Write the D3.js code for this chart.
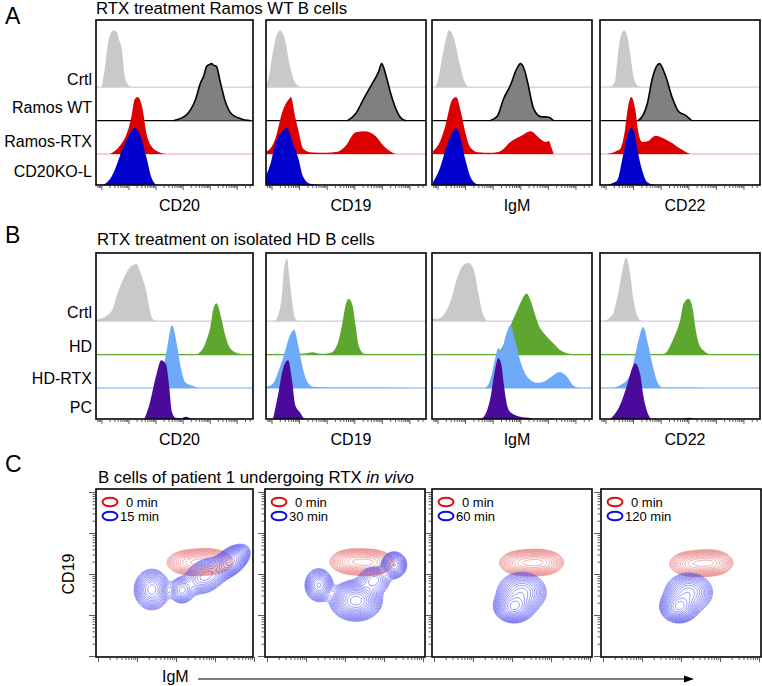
<!DOCTYPE html>
<html><head><meta charset="utf-8">
<script src="https://cdn.jsdelivr.net/npm/d3@7"></script>
<style>
body{margin:0;background:#fff}
svg{display:block}
text{font-family:"Liberation Sans",Arial,Helvetica,sans-serif;fill:#000}
</style>
</head><body>
<svg id="fig" width="762" height="686"></svg>
<script>
// ================= DATA =================
// Histogram knots: [channel position (0-100 across the axis), % of mode]
const markers = ["CD20", "CD19", "IgM", "CD22"];
const rowsA = ["Crtl", "Ramos WT", "Ramos-RTX", "CD20KO-L"];
const rowsB = ["Crtl", "HD", "HD-RTX", "PC"];

const A_CD20 = [
  [[3.6,0],[5.7,35],[7.5,75],[9.4,95],[11.3,100],[13.2,97],[15.1,80],[16.4,68],[18.2,22],[20.1,6],[22.6,0]],
  [[49.7,0],[57.2,9],[63.5,38],[66.7,67],[68.6,78],[70.4,95],[72,98],[73.6,100],[75,97],[76.7,95],[79.2,67],[82.4,33],[86.2,12],[92.5,3],[98,0]],
  [[8.8,0],[15.1,14],[20.1,40],[22.6,66],[24.5,95],[26.4,100],[29.6,80],[32.1,37],[35.2,14],[40.3,3],[44.7,0]],
  [[4.4,0],[8.8,10],[11.9,26],[16.4,60],[20.1,83],[24.5,100],[27.7,91],[32.1,49],[35.2,14],[38.4,0]]
];
const A_CD19 = [
  [[0,5],[1.3,12],[3.8,53],[6.3,88],[8.8,100],[11.9,83],[15.1,36],[18.2,8],[22.6,0]],
  [[50.9,0],[56,12],[61,38],[65.4,60],[70.4,86],[72.3,100],[74.8,81],[78,47],[81.1,21],[84.9,3],[87.4,0]],
  [[0,5],[1.3,6],[5.7,26],[10.7,78],[14.5,97],[15.5,100],[18.2,66],[20.1,43],[23.3,9],[27.7,3],[37,2],[44.7,4],[49.7,14],[56,38],[62.3,40],[68.6,31],[73.6,14],[78,4],[81.1,0]],
  [[0,17],[3.1,40],[5.7,72],[9.4,92],[13.2,100],[16.4,76],[20.1,48],[23.3,14],[27.7,2],[32.7,0]]
];
const A_IgM = [
  [[1.9,0],[3.5,9],[6.9,60],[10.7,100],[13.8,85],[17,45],[20,12],[22.6,0]],
  [[36.5,0],[40.9,8],[44.7,38],[49,62],[52.8,90],[55.3,100],[57.9,88],[59.7,68],[63.5,21],[67.9,7],[73,6],[74.2,4],[76,0]],
  [[0.6,5],[5,22],[8.2,48],[12.6,95],[15.1,100],[18.2,72],[20.8,38],[23.9,12],[28.9,3],[36.5,2],[42.8,5],[49,21],[55.3,31],[61.6,40],[67.9,26],[71.1,21],[73,23],[74.8,10],[76,0]],
  [[0.6,5],[5,30],[8.8,65],[12.6,92],[15.1,100],[17.6,85],[20.8,45],[23.9,15],[27,3],[30.2,0]]
];
const A_CD22 = [
  [[6.3,0],[9.4,10],[11.3,60],[13.2,92],[15.1,100],[17,90],[18.9,58],[21.4,13],[23.9,2],[25.8,0]],
  [[23.9,0],[27,10],[29.6,30],[32.7,74],[37.1,100],[40.9,79],[45.3,39],[49.1,16],[53.5,9],[57.2,0]],
  [[4.4,0],[9.4,4],[12.6,9],[15.7,44],[17.6,84],[19.5,100],[22,79],[23.9,39],[26.4,21],[30.2,23],[34.6,32],[37.7,30],[44,21],[50.3,9],[54,3],[56.6,0]],
  [[5,0],[7.5,3],[10.7,8],[14.5,53],[17.6,92],[19.5,100],[21.4,92],[23.3,63],[26.4,25],[29.6,5],[34.6,0]]
];
const B_CD20 = [
  [[0.6,3],[6.9,10],[10.7,22],[13.8,50],[18.2,79],[22.6,97],[25.8,100],[28.9,81],[32.1,51],[34,23],[35.8,5],[38.4,0]],
  [[64.2,0],[69.8,21],[73,51],[74.8,81],[76.7,90],[79.9,63],[82.4,33],[85.5,11],[90.6,2],[95.6,0]],
  [[35.8,0],[40.3,5],[42.1,23],[45.3,70],[48.4,110],[51.6,75],[54.1,35],[57.2,9],[62.3,3],[65.4,0]],
  [[30.8,0],[34,25],[38.4,77],[41.5,103],[44.7,95],[46.5,60],[48.4,12],[50.9,2],[54.1,1],[57.2,4],[61,0]]
];
const B_CD19 = [
  [[5,0],[7.5,10],[10.1,50],[11.3,93],[13.2,110],[14.5,80],[16.4,33],[18.2,5],[20.1,0]],
  [[2.5,0],[15.1,1],[24.5,2],[28.9,4],[34,1.5],[40.3,3],[44.7,19],[47.8,56],[49.7,86],[51.6,98],[54.1,86],[56,51],[57.9,16],[61,2],[63.5,0]],
  [[0,2],[4.4,8],[6.9,23],[10.7,53],[15.1,93],[17.6,102],[20.1,75],[22.6,40],[25.8,11],[29.6,2],[40.3,1],[71.7,1],[90.6,0]],
  [[4.4,0],[7.5,42],[10.7,89],[13.8,103],[16.4,65],[18.2,25],[21.4,11],[23.9,0]]
];
const B_IgM = [
  [[0.6,5],[3.1,4],[6.9,10],[11.3,33],[16.4,81],[19.5,98],[22.6,102],[25.8,93],[28.9,51],[31.4,16],[34.6,0]],
  [[39.6,0],[42.8,8],[45.9,25],[49,50],[52.8,75],[56,95],[59.1,107],[61.6,95],[64.2,72],[66.7,51],[69.8,38],[73,28],[76.1,19],[80.5,7],[84.9,2],[91.8,0]],
  [[33.3,0],[36.5,15],[39,45],[41.5,70],[43.4,65],[45.9,90],[49,110],[52.2,81],[55.3,46],[59.7,19],[66,9],[69.8,11],[74.2,19],[79.9,28],[84.9,18],[88,5],[93.1,0]],
  [[30.2,0],[33.3,8],[36.5,37],[39.6,89],[41.5,107],[43.4,95],[44.7,65],[46.5,30],[49,12],[55.3,4],[60.4,2],[63.5,0]]
];
const B_CD22 = [
  [[1.9,0],[7.5,10],[10.7,40],[13.8,86],[16.4,112],[18.9,81],[20.8,40],[23.3,10],[25.8,0]],
  [[37.7,0],[40.9,3],[45.9,28],[50.3,63],[52.2,89],[55.3,98],[57.9,81],[59.7,46],[61.6,21],[64.8,7],[69.2,0]],
  [[6.3,0],[12.6,5],[18.9,23],[22,58],[24.5,89],[27,107],[30.2,75],[33.3,35],[35.8,11],[39,1],[58.5,1],[62.9,0]],
  [[6.3,0],[7.5,3],[12.6,25],[17,60],[20.1,89],[22,98],[25.2,77],[27,42],[29.6,12],[32.7,0],[50.3,0],[55.3,2],[59.1,0]]
];

// Panel C: density components [log10 IgM, log10 CD19, sdX, sdY, rho, weight]
const timesC = ["15 min", "30 min", "60 min", "120 min"];
const C_red = [
  [[3.38,3.28,0.26,0.13,0,0.85],[3.83,3.30,0.26,0.13,0,1]],
  [[3.2,3.30,0.25,0.13,0,0.85],[3.65,3.28,0.25,0.13,0,1]],
  [[3.27,3.27,0.25,0.13,0,0.85],[3.72,3.28,0.25,0.13,0,1]],
  [[3.3,3.25,0.25,0.13,0,0.85],[3.75,3.27,0.24,0.13,0,1]]
];
const C_blue = [
  [[2.38,2.62,0.2,0.22,0,0.55],[3.15,2.6,0.15,0.15,0,0.35],[3.75,2.95,0.25,0.2,0.3,0.45],[4.4,3.3,0.2,0.17,0.5,1]],
  [[2.33,2.73,0.16,0.18,0,0.5],[3.28,2.35,0.27,0.2,0,1],[4.26,3.22,0.14,0.14,0,0.6],[3.75,2.85,0.2,0.16,0,0.3]],
  [[3.05,2.2,0.21,0.16,0,1],[3.25,2.55,0.28,0.22,0,0.6]],
  [[2.95,2.2,0.2,0.16,0,1],[3.2,2.55,0.27,0.21,0,0.6]]
];

// ================= LAYOUT / STYLE =================
const svg = d3.select("#fig");
const defs = svg.append("defs");
const colX = [96, 266, 432, 600];
const colW = [157, 160, 160, 160];
const FONT = 16;

function text(x, y, s, size, anchor) {
  return svg.append("text").attr("x", x).attr("y", y).attr("font-size", size)
    .attr("text-anchor", anchor || "start").text(s);
}

let clipN = 0;
function clipRect(x, y, w, h) {
  const id = "clip" + (clipN++);
  defs.append("clipPath").attr("id", id).append("rect")
    .attr("x", x).attr("y", y).attr("width", w).attr("height", h);
  return "url(#" + id + ")";
}

function logTickValues(lo, hi) {
  const major = [], minor = [];
  for (let k = -2; k <= 7; k++) for (let m = 1; m <= 9; m++) {
    const v = m * Math.pow(10, k);
    if (v >= lo && v <= hi) (m === 1 ? major : minor).push(v);
  }
  return { major, minor };
}

function drawHistPanel(cfg) {
  const { top, bottom, data, rows, labelY, fills, lines, outline, axisY } = cfg;
  const step = 33.4;
  const baselines = [bottom - 31 - 2 * step, bottom - 31 - step, bottom - 31, bottom];
  const h = d3.scaleLinear().domain([0, 100]).range([0, 57]);
  data.forEach((hists, ci) => {
    const x0 = colX[ci], w = colW[ci];
    const x = d3.scaleLinear().domain([0, 100]).range([x0, x0 + w]);
    const g = svg.append("g").attr("clip-path", clipRect(x0, top, w, bottom - top));
    hists.forEach((pts, ri) => {
      const b = baselines[ri];
      if (ri < 3) g.append("line").attr("x1", x0).attr("x2", x0 + w)
        .attr("y1", b).attr("y2", b).attr("stroke", lines[ri]).attr("stroke-width", 1.2);
      const area = d3.area().x(d => x(d[0])).y0(b).y1(d => b - h(d[1])).curve(d3.curveMonotoneX);
      g.append("path").datum(pts).attr("d", area).attr("fill", fills[ri]);
      if (outline[ri]) {
        const ln = d3.line().x(d => x(d[0])).y(d => b - h(d[1])).curve(d3.curveMonotoneX);
        g.append("path").datum(pts).attr("d", ln).attr("fill", "none")
          .attr("stroke", "#000").attr("stroke-width", 1.6);
      }
    });
    svg.append("rect").attr("x", x0).attr("y", top).attr("width", w).attr("height", bottom - top)
      .attr("fill", "none").attr("stroke", "#000").attr("stroke-width", 1.6);
    const lo = Math.pow(10, -0.2), hi = Math.pow(10, 5.6);
    const lx = d3.scaleLog().domain([lo, hi]).range([x0, x0 + w]);
    const tv = logTickValues(lo, hi);
    const axMaj = svg.append("g").attr("transform", `translate(0,${bottom})`)
      .call(d3.axisBottom(lx).tickValues(tv.major).tickSize(5).tickFormat(""));
    const axMin = svg.append("g").attr("transform", `translate(0,${bottom})`)
      .call(d3.axisBottom(lx).tickValues(tv.minor).tickSize(3).tickFormat(""));
    [axMaj, axMin].forEach(a => { a.select(".domain").remove(); a.selectAll("line").attr("stroke", "#333").attr("stroke-width", 0.8); });
    text(x0 + w / 2 + 5, axisY, markers[ci], FONT, "middle");
  });
  rows.forEach((r, ri) => text(92, labelY[ri], r, FONT, "end"));
}

// ---------- Panel A ----------
text(5, 23.5, "A", 23);
text(96, 14, "RTX treatment Ramos WT B cells", 16.8);
drawHistPanel({
  top: 20, bottom: 185, data: [A_CD20, A_CD19, A_IgM, A_CD22], rows: rowsA,
  labelY: [85, 113, 147, 177],
  fills: ["#c9c9c9", "#808080", "#dd0000", "#0000cc"],
  lines: ["#cfcfcf", "#000000", "#f2a0a0", "#0000cc"],
  outline: [false, true, false, false], axisY: 211
});

// ---------- Panel B ----------
text(5, 243, "B", 23);
text(97, 245, "RTX treatment on isolated HD B cells", 16.8);
drawHistPanel({
  top: 253, bottom: 419, data: [B_CD20, B_CD19, B_IgM, B_CD22], rows: rowsB,
  labelY: [318, 352, 384, 413],
  fills: ["#c9c9c9", "#5ea72f", "#6eaaf7", "#4a0a9c"],
  lines: ["#cfcfcf", "#5ea72f", "#6eaaf7", "#4a0a9c"],
  outline: [false, false, false, false], axisY: 445
});

// ---------- Panel C ----------
text(5, 472, "C", 23);
const ct = svg.append("text").attr("x", 98).attr("y", 483).attr("font-size", 16.8);
ct.append("tspan").text("B cells of patient 1 undergoing RTX ");
ct.append("tspan").attr("font-style", "italic").text("in vivo");

const cTop = 489, cBot = 657;
const nGrid = 110;
function drawContours(g, comps, xs, ys, color, nLev, width) {
  const vals = new Array(nGrid * nGrid);
  for (let j = 0; j < nGrid; j++) for (let i = 0; i < nGrid; i++) {
    const X = 1 + (i + 0.5) / nGrid * 4, Y = 1 + (j + 0.5) / nGrid * 4;
    let s = 0;
    comps.forEach(([mx, my, sx, sy, r, wt]) => {
      const dx = (X - mx) / sx, dy = (Y - my) / sy;
      s += wt * Math.exp(-(dx * dx - 2 * r * dx * dy + dy * dy) / (2 * (1 - r * r)));
    });
    vals[j * nGrid + i] = s;
  }
  const mx = d3.max(vals);
  const th = d3.range(nLev).map(k => mx * Math.pow(0.04, 1 - (k + 0.3) / nLev));
  const cs = d3.contours().size([nGrid, nGrid]).thresholds(th)(vals);
  const proj = d3.geoTransform({
    point(px, py) { this.stream.point(xs(Math.pow(10, 1 + px / nGrid * 4)), ys(Math.pow(10, 1 + py / nGrid * 4))); }
  });
  const path = d3.geoPath(proj);
  g.selectAll(null).data(cs).join("path").attr("d", path)
    .attr("fill", "none").attr("stroke", color).attr("stroke-width", width).attr("stroke-linejoin", "round");
}

timesC.forEach((t, ci) => {
  const x0 = colX[ci] + (ci === 1 ? -1 : ci === 3 ? 1 : 0), w = colW[ci];
  const xs = d3.scaleLog().domain([10, 1e5]).range([x0 + 2, x0 + 158]);
  const ys = d3.scaleLog().domain([10, 1e5]).range([656, 492]);
  const g = svg.append("g").attr("clip-path", clipRect(x0, cTop, w, cBot - cTop));
  drawContours(g, C_red[ci], xs, ys, "#e46a6a", 13, 0.55);
  drawContours(g, C_blue[ci], xs, ys, "#4646ee", 16, 0.55);
  svg.append("rect").attr("x", x0).attr("y", cTop).attr("width", w).attr("height", cBot - cTop)
    .attr("fill", "none").attr("stroke", "#000").attr("stroke-width", 1.6);
  const tv = logTickValues(10, 1e5);
  const mk = (axis, size, vals, tr) => {
    const a = svg.append("g").attr("transform", tr).call(axis.tickValues(vals).tickSize(size).tickFormat(""));
    a.select(".domain").remove();
    a.selectAll("line").attr("stroke", "#333").attr("stroke-width", 0.8);
  };
  mk(d3.axisBottom(xs), 5, tv.major, `translate(0,${cBot})`);
  mk(d3.axisBottom(xs), 3, tv.minor, `translate(0,${cBot})`);
  mk(d3.axisLeft(ys), 7, tv.major, `translate(${x0},0)`);
  mk(d3.axisLeft(ys), 3.5, tv.minor, `translate(${x0},0)`);
  svg.append("ellipse").attr("cx", x0 + 14).attr("cy", 502).attr("rx", 7.5).attr("ry", 4.3)
    .attr("fill", "none").attr("stroke", "#e01010").attr("stroke-width", 2);
  svg.append("ellipse").attr("cx", x0 + 14).attr("cy", 516).attr("rx", 7.5).attr("ry", 4.3)
    .attr("fill", "none").attr("stroke", "#1010e0").attr("stroke-width", 2);
  text(x0 + 30, 507, "0 min", 13);
  text(x0 + 24, 521, t, 13);
});

svg.append("text").attr("transform", "translate(74,574) rotate(-90)")
  .attr("font-size", FONT).attr("text-anchor", "middle").text("CD19");
text(162, 682, "IgM", FONT);
svg.append("line").attr("x1", 198).attr("x2", 685).attr("y1", 679).attr("y2", 679)
  .attr("stroke", "#000").attr("stroke-width", 1.2);
svg.append("path").attr("d", d3.line()([[684, 675.5], [694, 679], [684, 682.5]]) + "Z").attr("fill", "#000");
</script>
</body></html>
